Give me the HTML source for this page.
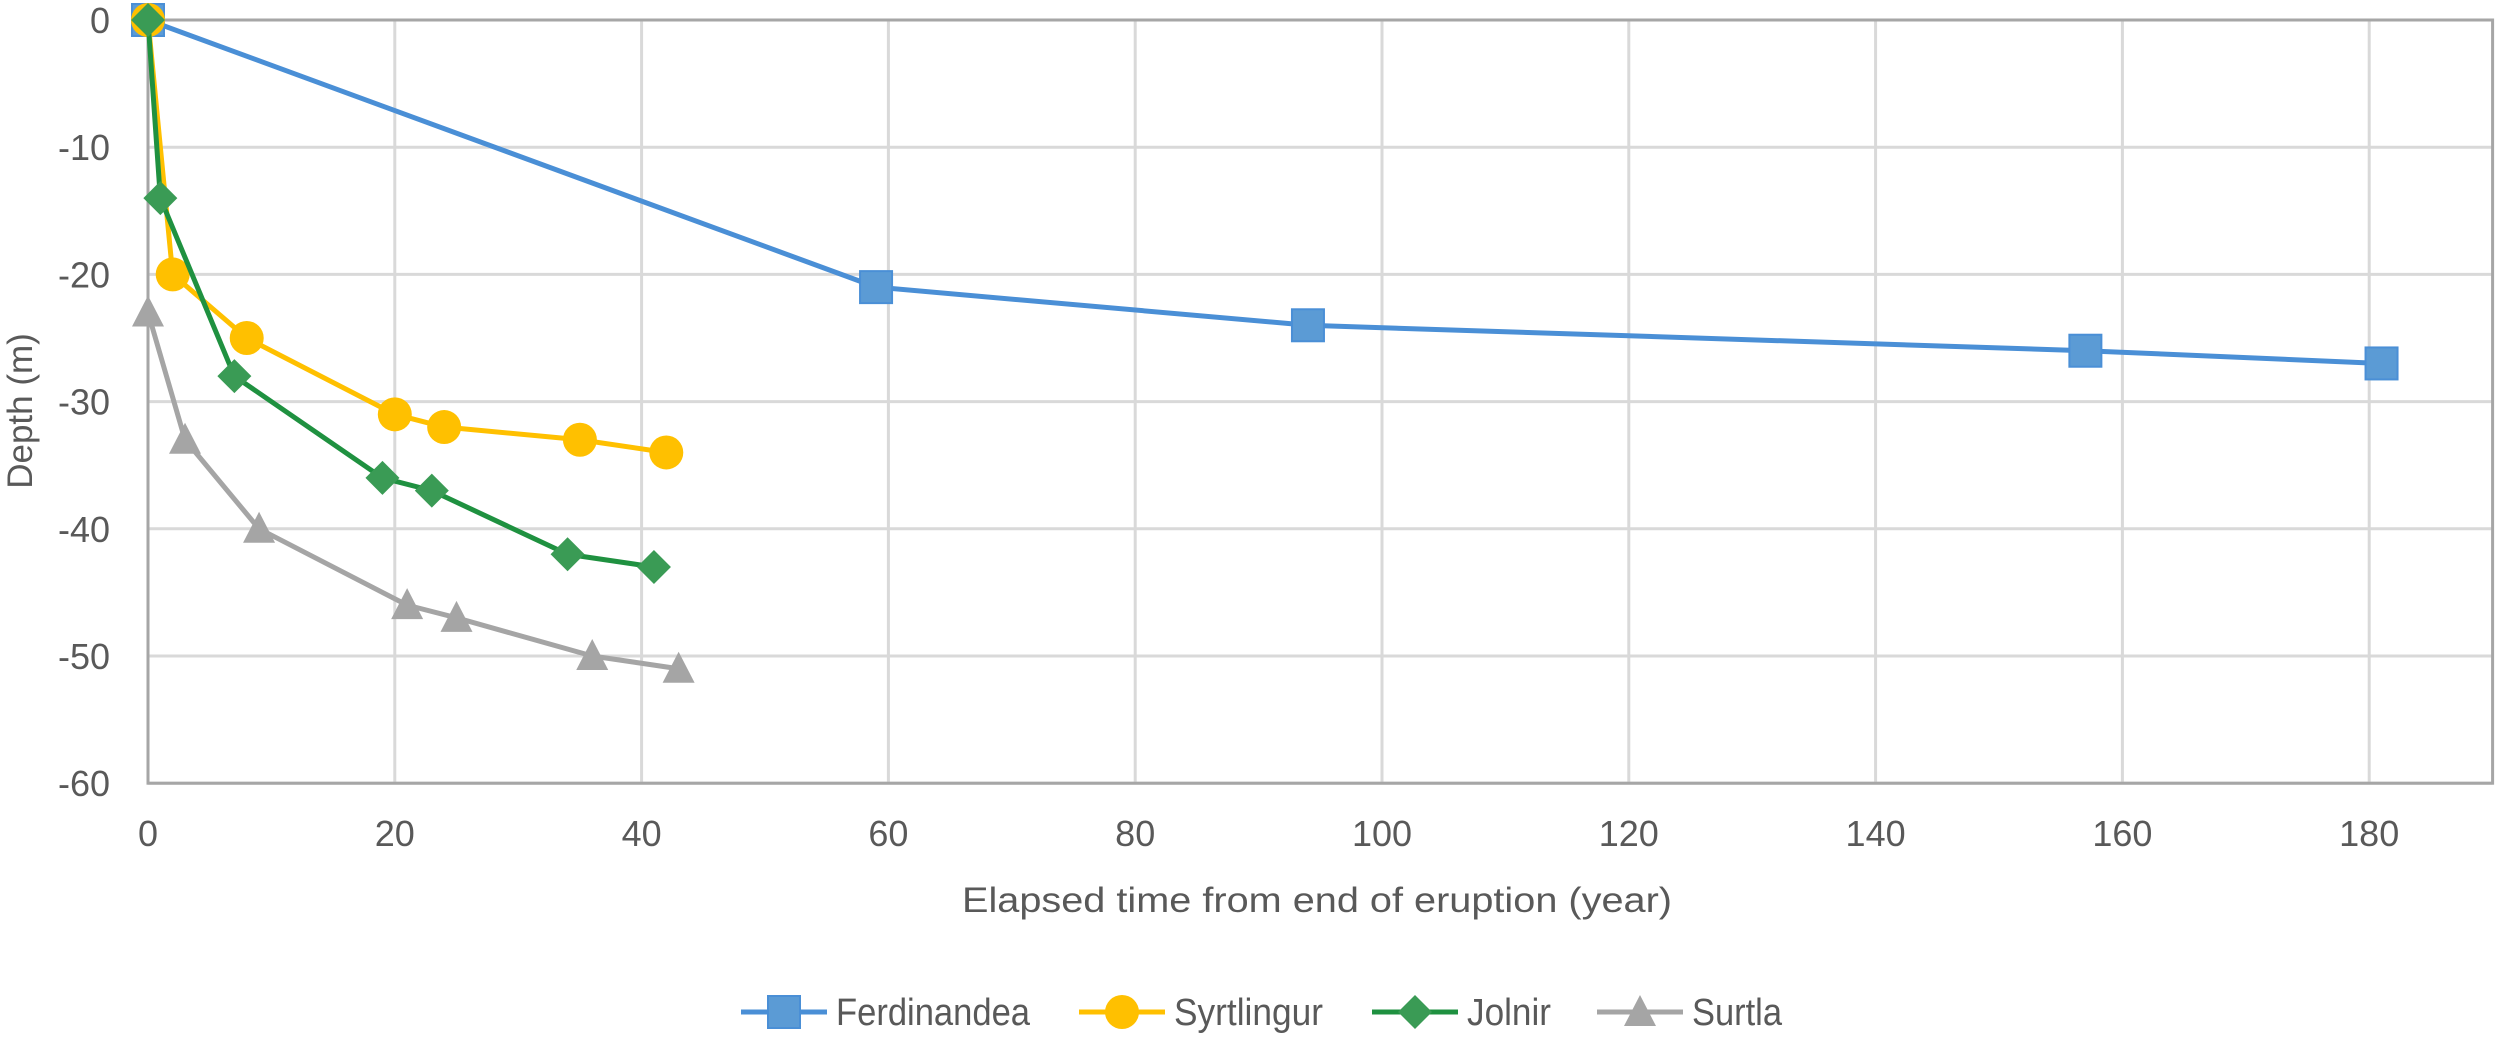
<!DOCTYPE html>
<html><head><meta charset="utf-8"><style>
body{margin:0;background:#fff;}
svg{display:block;font-family:"Liberation Sans",sans-serif;}
</style></head><body>
<svg id="chart" width="2500" height="1037" xmlns="http://www.w3.org/2000/svg">
<g id="grid"></g>
<g id="axes"></g>
<g id="series"></g>
<text x="1317" y="912" text-anchor="middle" font-size="35" fill="#595959" textLength="710" lengthAdjust="spacingAndGlyphs">Elapsed time from end of eruption (year)</text>
<text transform="translate(32,411) rotate(-90)" text-anchor="middle" font-size="35" fill="#595959">Depth (m)</text>
<g id="legend"></g>
</svg>
<script>
const xTicks=[0,20,40,60,80,100,120,140,160,180];
const yTicks=[0,-10,-20,-30,-40,-50,-60];
const seriesNames=["Ferdinandea","Syrtlingur","Jolnir","Surtla"];
const ferdX=[0,59,94,157,181];
const ferdY=[0,-21,-24,-26,-27];
const syrtX=[0,2,8,20,24,35,42];
const syrtY=[0,-20,-25,-31,-32,-33,-34];
const jolX=[0,1,7,19,23,34,41];
const jolY=[0,-14,-28,-36,-37,-42,-43];
const surX=[0,3,9,21,25,36,43];
const surY=[-23,-33,-40,-46,-47,-50,-51];

const NS="http://www.w3.org/2000/svg";
const X0=148,XS=12.34,Y0=20,YS=12.72,XMAX=190,YMIN=-60;
const sx=v=>X0+v*XS, sy=v=>Y0-v*YS;
function mk(tag,attrs,parent){const e=document.createElementNS(NS,tag);for(const k in attrs)e.setAttribute(k,attrs[k]);parent.appendChild(e);return e;}
const grid=document.getElementById('grid'),axes=document.getElementById('axes'),ser=document.getElementById('series'),leg=document.getElementById('legend');
xTicks.forEach(t=>{
  const l=mk('line',{x1:sx(t),x2:sx(t),y1:sy(0),y2:sy(YMIN),stroke:'#d9d9d9','stroke-width':3},grid);
  
  
  const tx=mk('text',{x:sx(t),y:sy(YMIN)+63,'text-anchor':'middle','font-size':36,fill:'#595959'},axes);
  tx.textContent=t;
  
  
});
yTicks.forEach(t=>{
  const l=mk('line',{x1:sx(0),x2:sx(XMAX),y1:sy(t),y2:sy(t),stroke:'#d9d9d9','stroke-width':3},grid);
  
  
  const tx=mk('text',{x:110,y:sy(t)+13,'text-anchor':'end','font-size':36,fill:'#595959'},axes);
  tx.textContent=t;
  
  
});
const box=mk('rect',{x:sx(0),y:sy(0),width:sx(XMAX)-sx(0),height:sy(YMIN)-sy(0),fill:'none',stroke:'#a6a6a6','stroke-width':3},grid);



function marker(type,cx,cy,fill,stroke,p){
  let e;
  if(type==='square')e=mk('rect',{x:cx-16,y:cy-16,width:32,height:32,fill:fill,stroke:stroke,'stroke-width':2},p);
  else if(type==='circle')e=mk('circle',{cx:cx,cy:cy,r:17,fill:fill},p);
  else if(type==='diamond')e=mk('polygon',{points:`${cx},${cy-17} ${cx+17},${cy} ${cx},${cy+17} ${cx-17},${cy}`,fill:fill},p);
  else e=mk('polygon',{points:`${cx},${cy-17} ${cx+16},${cy+14} ${cx-16},${cy+14}`,fill:fill},p);
  return e;
}
const defs=[
 {xs:ferdX,ys:ferdY,c:'#4a8fd6',f:'#5b9bd5',s:'#4a8fd6',m:'square',n:'ferdinandea'},
 {xs:surX,ys:surY,c:'#a5a5a5',f:'#a5a5a5',s:'#a5a5a5',m:'triangle',n:'surtla'},
 {xs:syrtX,ys:syrtY,c:'#ffc000',f:'#ffc000',s:'#ffc000',m:'circle',n:'syrtlingur'},
 {xs:jolX,ys:jolY,c:'#1f9140',f:'#3a9b55',s:'#3a9b55',m:'diamond',n:'jolnir'}
];
defs.forEach(d=>{
  const g=mk('g',{},ser);
  
  
  const pl=mk('polyline',{points:d.xs.map((x,i)=>sx(x)+','+sy(d.ys[i])).join(' '),fill:'none',stroke:d.c,'stroke-width':5,'stroke-linejoin':'round'},g);
  
  
  d.xs.forEach((x,i)=>{
    const m=marker(d.m,sx(x),sy(d.ys[i]),d.f,d.s,g);
    
    
  });
});
const legX=[741,1079,1372,1597];
const legW=[194,149,84,90];
const legOrder=[0,2,3,1];
seriesNames.forEach((name,i)=>{
  const d=defs[legOrder[i]];
  const g=mk('g',{},leg);
  
  
  const y=1012,x=legX[i];
  mk('line',{x1:x,x2:x+86,y1:y,y2:y,stroke:d.c,'stroke-width':5},g);
  marker(d.m,x+43,y,d.f,d.s,g);
  const t=mk('text',{x:x+95,y:y+13,'font-size':38,fill:'#595959',textLength:legW[i],lengthAdjust:'spacingAndGlyphs'},g);
  t.textContent=name;
});
</script>
</body></html>
